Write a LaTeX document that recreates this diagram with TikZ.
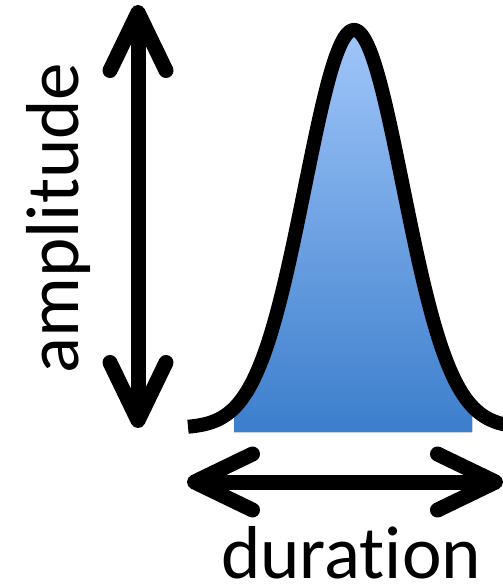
\documentclass[tikz,border=0pt]{standalone}
\usepackage{fontspec}
\setmainfont[Ligatures={NoCommon,NoContextual}]{Carlito}
\usetikzlibrary{arrows.meta}
\definecolor{pulsetop}{RGB}{160,198,250}
\definecolor{pulsebot}{RGB}{60,126,204}
\begin{document}
\begin{tikzpicture}[x=1pt, y=-1pt]
  \tikzstyle{arr}=[line width=15pt,{Straight Barb[length=58pt,width=56pt,round]}-{Straight Barb[length=58pt,width=56pt,round]}]
  \tikzstyle{lbl}=[font=\fontsize{75}{80}\selectfont,inner sep=0pt,text depth=0pt,anchor=base]
  \useasboundingbox (0,0) rectangle (503,587);
  \fill[white] (0,0) rectangle (503,587);
  \clip (0,0) rectangle (503,587);
  % pulse fill and outline
  \fill[top color=pulsetop,bottom color=pulsebot] (234,432) -- plot[domain=234:472,samples=120,smooth] ({\x},{428-398*exp(-0.5*((\x-354)/49)^2)}) -- (472,432) -- cycle;
  \draw[line width=14pt,line join=round] plot[domain=188:530,samples=200,smooth] ({\x},{428-398*exp(-0.5*((\x-354)/49)^2)});
  % arrows
  \coordinate (ampTop) at (138,5);
  \coordinate (ampBot) at (138,428);
  \coordinate (durL) at (187,482);
  \coordinate (durR) at (503,482);
  \draw[arr] (ampTop) -- (ampBot);
  \draw[arr] (durL) -- (durR);
  % labels
  \node[lbl,rotate=90] (amp) at (78,218) {amplitude};
  \node[lbl] (dur) at (351,578) {duration};
\end{tikzpicture}
\end{document}
